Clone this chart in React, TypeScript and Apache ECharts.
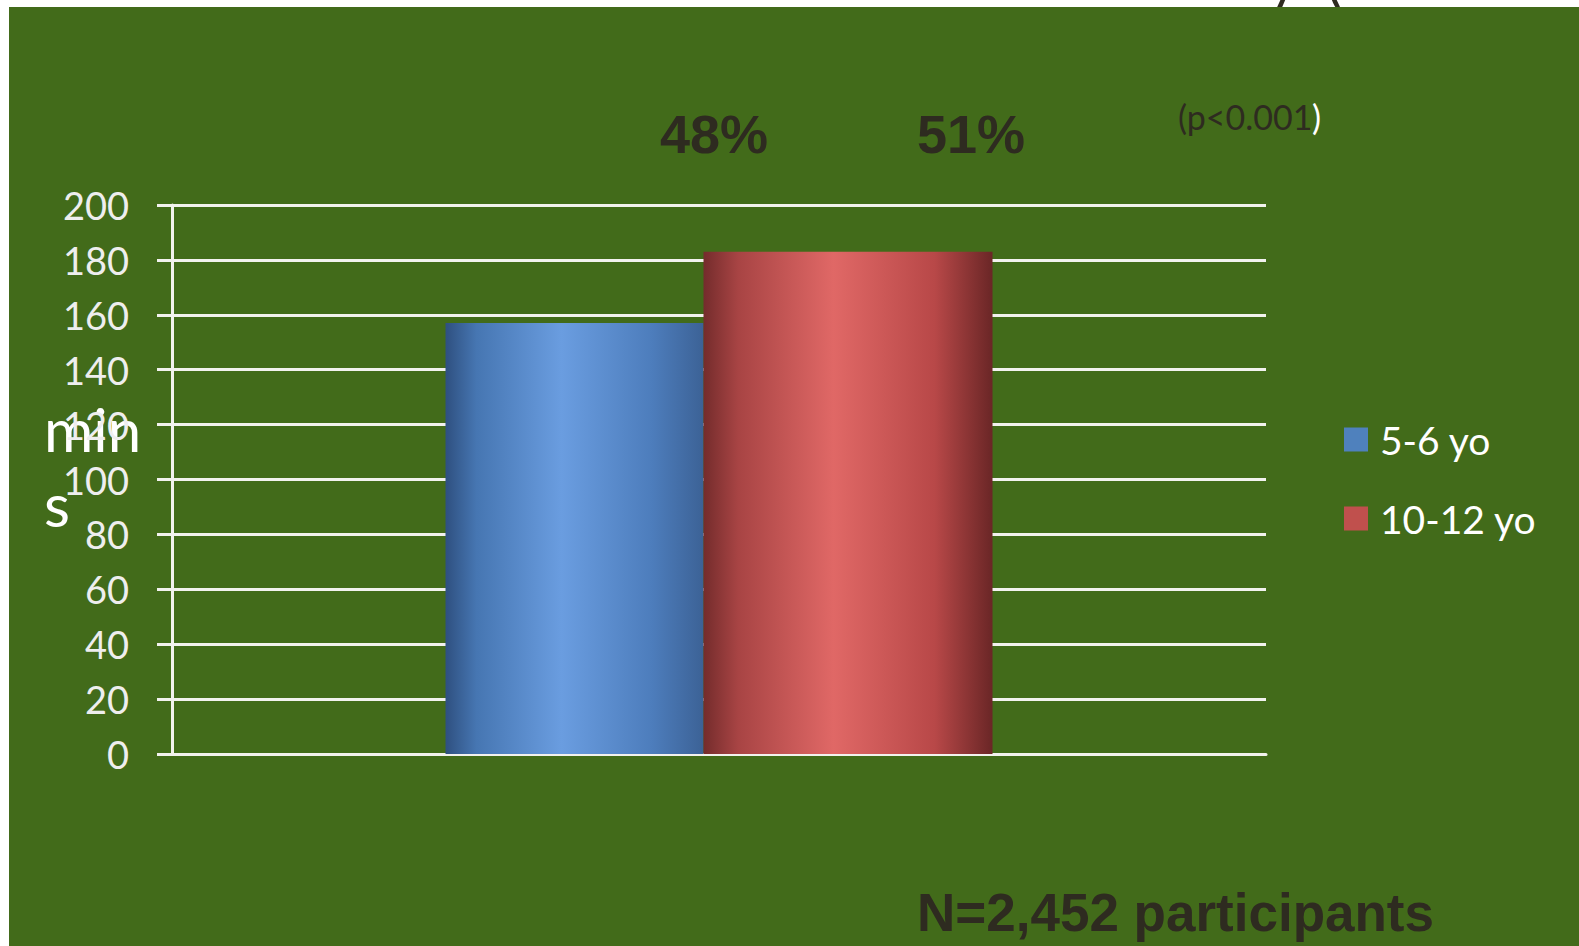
import React, { useEffect, useRef } from "react";
import * as echarts from "echarts";

const categories = [""];
const seriesNames = ["5-6 yo", "10-12 yo"];
const legendColors = ["#4f81bd", "#c0504d"];
const youngValues = [157];
const olderValues = [183];
const percentLabels = ["48%", "51%"];
const yTicks = { min: 0, max: 200, interval: 20 };

export default function App() {
  const ref = useRef<HTMLDivElement>(null);
  useEffect(() => {
    if (!ref.current) return;
    const chart = echarts.init(ref.current, undefined, { renderer: "svg" });
    const white = "#f2f2ee";
    const dark = "#2e2b20";
    chart.setOption({
      animation: false,
      backgroundColor: "#ffffff",
      grid: { left: 172, right: 313, top: 205, bottom: 192, containLabel: false },
      legend: {
        orient: "vertical",
        left: 1339,
        top: 415,
        itemWidth: 24,
        itemHeight: 24,
        itemGap: 40,
        icon: "rect",
        data: seriesNames.map((name, i) => ({
          name,
          itemStyle: { color: legendColors[i] },
        })),
        textStyle: {
          color: "#ffffff",
          fontFamily: "Lato",
          fontSize: 39,
          lineHeight: 24,
          padding: [0, 0, 0, 7],
        },
      },
      xAxis: {
        type: "category",
        data: categories,
        axisLine: { show: true, lineStyle: { color: white, width: 3 } },
        axisTick: { show: false },
        axisLabel: { show: false },
        splitLine: { show: false },
      },
      yAxis: {
        type: "value",
        min: yTicks.min,
        max: yTicks.max,
        interval: yTicks.interval,
        axisLine: { show: true, lineStyle: { color: white, width: 3 } },
        axisTick: { show: true, length: 15, lineStyle: { color: white, width: 3 } },
        axisLabel: {
          color: "#eeeeee",
          fontFamily: "Lato",
          fontSize: 38,
          margin: 43,
        },
        splitLine: { show: true, lineStyle: { color: white, width: 3 } },
      },
      series: [
        {
          name: seriesNames[0],
          type: "bar",
          data: youngValues,
          barWidth: 258,
          barGap: "0%",
          itemStyle: {
            color: {
              type: "linear",
              x: 0, y: 0, x2: 1, y2: 0,
              colorStops: [
                { offset: 0, color: "#2f5080" },
                { offset: 0.12, color: "#4676b2" },
                { offset: 0.45, color: "#6a9de0" },
                { offset: 0.8, color: "#4d7dbc" },
                { offset: 1, color: "#3c6296" },
              ],
            },
          },
        },
        {
          name: seriesNames[1],
          type: "bar",
          data: olderValues,
          barWidth: 289,
          barGap: "0%",
          itemStyle: {
            color: {
              type: "linear",
              x: 0, y: 0, x2: 1, y2: 0,
              colorStops: [
                { offset: 0, color: "#742c2c" },
                { offset: 0.12, color: "#a84444" },
                { offset: 0.45, color: "#e06866" },
                { offset: 0.8, color: "#b84848" },
                { offset: 1, color: "#6a2626" },
              ],
            },
          },
        },
      ],
      color: legendColors,
      graphic: [
        {
          type: "text",
          x: 1268,
          y: -22,
          z: -20,
          style: { text: "y  (", fill: dark, font: "58px Lato", verticalAlign: "middle" },
        },
        {
          type: "rect",
          z: -10,
          shape: { x: 9, y: 7, width: 1570, height: 939 },
          style: { fill: "#426b1a" },
        },
        {
          type: "text",
          x: 714,
          y: 134,
          style: { text: percentLabels[0], fill: dark, font: "bold 54px 'Liberation Sans'", align: "center", verticalAlign: "middle" },
        },
        {
          type: "text",
          x: 971,
          y: 134,
          style: { text: percentLabels[1], fill: dark, font: "bold 54px 'Liberation Sans'", align: "center", verticalAlign: "middle" },
        },
        {
          type: "text",
          x: 1178,
          y: 116,
          style: { text: "(p<0.001", fill: dark, font: "34px Lato", verticalAlign: "middle" },
        },
        {
          type: "text",
          x: 1312,
          y: 116,
          style: { text: ")", fill: "#ffffff", font: "34px Lato", verticalAlign: "middle" },
        },
        {
          type: "text",
          x: 44,
          y: 429,
          style: { text: "min", fill: "#ffffff", font: "60px Lato", verticalAlign: "middle" },
        },
        {
          type: "text",
          x: 44,
          y: 504,
          style: { text: "s", fill: "#ffffff", font: "60px Lato", verticalAlign: "middle" },
        },
        {
          type: "text",
          x: 917,
          y: 912,
          style: { text: "N=2,452 participants", fill: dark, font: "bold 53px 'Liberation Sans'", verticalAlign: "middle" },
        },
      ],
    });
    return () => chart.dispose();
  }, []);
  return (
    <div
      ref={ref}
      style={{ position: "fixed", left: 0, top: 0, width: 1579, height: 946 }}
    />
  );
}
